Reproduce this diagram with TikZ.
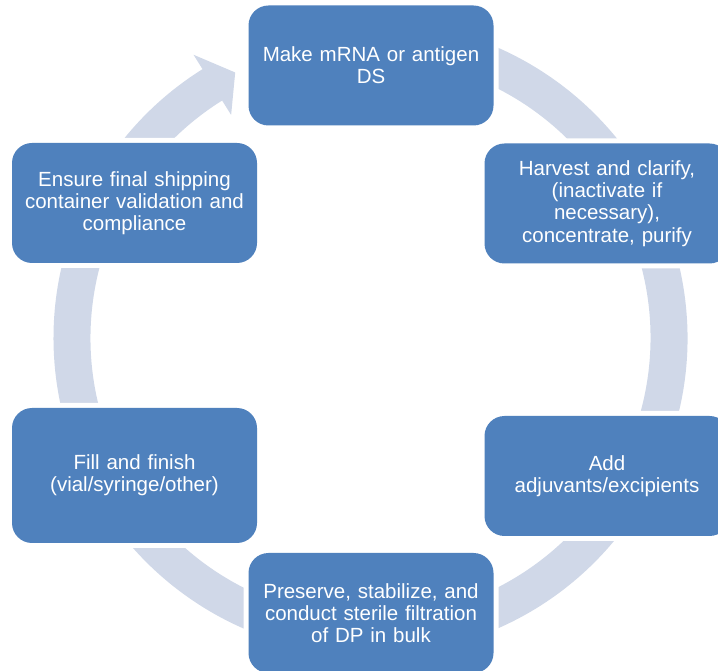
\documentclass[tikz,border=0pt]{standalone}
\usepackage{fontspec}
\setmainfont{Liberation Sans}
\usetikzlibrary{positioning}
\definecolor{stageblue}{RGB}{79,129,189}
\definecolor{ringgray}{RGB}{208,216,232}
\tikzstyle{stage} = [rectangle, rounded corners=20pt, fill=stageblue, text=white, minimum width=245pt, minimum height=120pt, inner sep=0pt, text width=225pt, align=center, font=\fontsize{20.5pt}{22.2pt}\selectfont, preaction={draw=white, line width=10pt}]
\tikzstyle{ring} = [fill=ringgray]

\begin{document}
\begin{tikzpicture}[x=1pt, y=1pt]
	\useasboundingbox (0,0) rectangle (718,670);
	\clip (0,0) rectangle (718,670);
	\coordinate (C) at (370.5,332);

	% cycle ring with arrow head
	\begin{scope}[shift={(C)}]
	\fill [ring] (100:317pt) arc[start angle=100, end angle=-238, radius=317pt]
		-- (-238:334pt) -- (-243:298pt) -- (-238:263pt) -- (-238:280pt)
		arc[start angle=-238, end angle=100, radius=280pt] -- cycle;
	\end{scope}

	% place nodes
	\node [stage] (S1) at (371,604.5) {Make mRNA or antigen\\DS};
	\node [stage] (S2) at (607,466.5) {Harvest and clarify,\\(inactivate if\\necessary),\\concentrate, purify};
	\node [stage] (S3) at (607,194)   {Add\\adjuvants/excipients};
	\node [stage] (S4) at (371,57)    {Preserve, stabilize, and\\conduct sterile filtration\\of DP in bulk};
	\node [stage, minimum height=135pt] (S5) at (134.5,194.5) {Fill and finish\\(vial/syringe/other)};
	\node [stage] (S6) at (134.5,467) {Ensure final shipping\\container validation and\\compliance};
\end{tikzpicture}
\end{document}
